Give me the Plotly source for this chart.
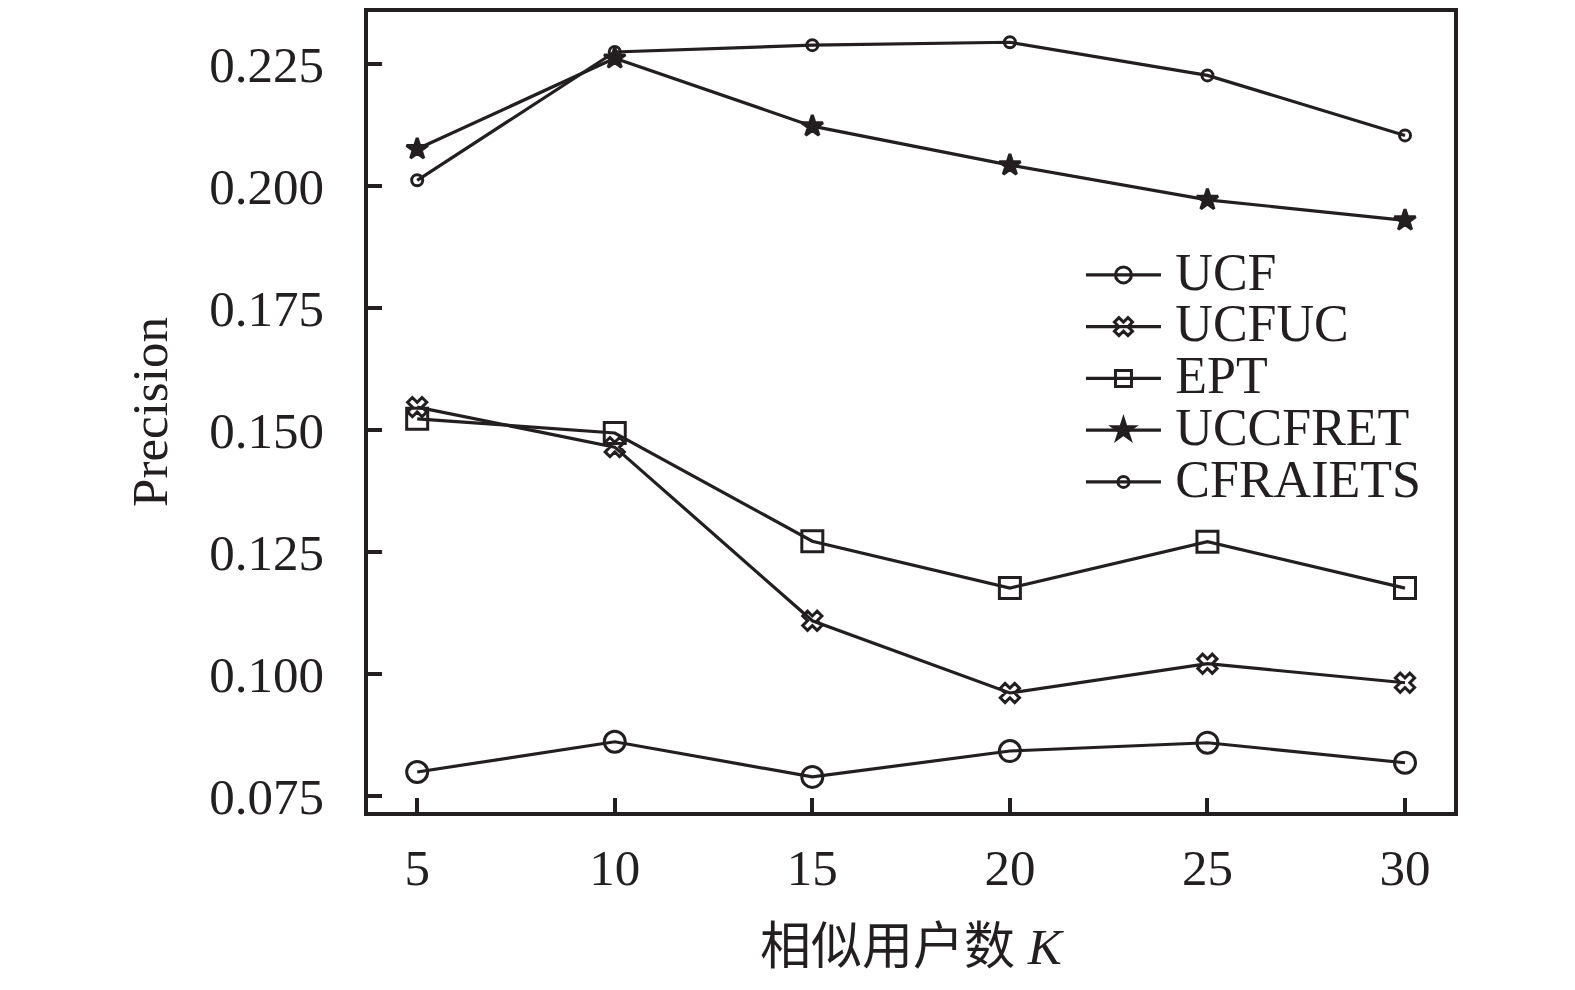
import plotly.graph_objects as go

# 相似用户数 K
k_values = [5, 10, 15, 20, 25, 30]

ucf = [0.0799, 0.0861, 0.0789, 0.0842, 0.0859, 0.0818]
ucfuc = [0.1547, 0.1465, 0.1109, 0.0961, 0.1021, 0.0982]
ept = [0.1523, 0.1494, 0.1272, 0.1176, 0.1271, 0.1176]
uccfret = [0.2076, 0.2262, 0.2123, 0.2043, 0.1972, 0.1930]
cfraiets = [0.2012, 0.2275, 0.2289, 0.2295, 0.2227, 0.2104]

y_ticks = [0.075, 0.100, 0.125, 0.150, 0.175, 0.200, 0.225]
y_ticktext = ['0.075', '0.100', '0.125', '0.150', '0.175', '0.200', '0.225']

ink = '#231f20'
fnt = 'Liberation Serif, Times New Roman, Noto Sans CJK SC, serif'

series = [
    ('UCF', ucf, 'circle-open', 21),
    ('UCFUC', ucfuc, 'x-open', 17),
    ('EPT', ept, 'square-open', 21),
    ('UCCFRET', uccfret, 'star', 16),
    ('CFRAIETS', cfraiets, 'circle-open', 11),
]

fig = go.Figure()
for name, vals, sym, size in series:
    # bigger legend text than the legend row height, as in the original figure
    label = '\u00a0<span style="font-size:52px">' + name + '</span>'
    fig.add_trace(go.Scatter(
        x=k_values, y=vals, name=label, mode='lines+markers',
        line=dict(color=ink, width=3.2),
        marker=dict(symbol=sym, size=size, color=ink,
                    line=dict(color=ink, width=3)),
    ))

fig.update_layout(
    width=1575, height=990,
    margin=dict(l=360, r=129, t=0, b=186),
    plot_bgcolor='white', paper_bgcolor='white',
    font=dict(family=fnt, size=51, color=ink),
    showlegend=True,
    legend=dict(
        x=0.6565, y=0.71, xanchor='left', yanchor='top',
        bgcolor='rgba(0,0,0,0)', font=dict(size=37.5, family=fnt),
        itemwidth=75, tracegroupgap=0, valign='middle',
    ),
)

fig.update_xaxes(
    range=[3.755, 31.24], tickvals=k_values,
    ticks='inside', ticklen=14, tickwidth=3.5, tickcolor=ink,
    showline=True, linewidth=3.5, linecolor=ink, mirror=True,
    showgrid=False, zeroline=False,
    tickfont=dict(size=51), ticklabelstandoff=8,
    title=dict(text='相似用户数 <i>K</i>', font=dict(size=51), standoff=34),
)
fig.update_yaxes(
    range=[0.0717, 0.2357], tickvals=y_ticks, ticktext=y_ticktext,
    ticks='inside', ticklen=14, tickwidth=3.5, tickcolor=ink,
    showline=True, linewidth=3.5, linecolor=ink, mirror=True,
    showgrid=False, zeroline=False,
    tickfont=dict(size=51), ticklabelstandoff=30,
    title=dict(text='Precision', font=dict(size=51), standoff=26),
)

fig.write_html("out.html")
